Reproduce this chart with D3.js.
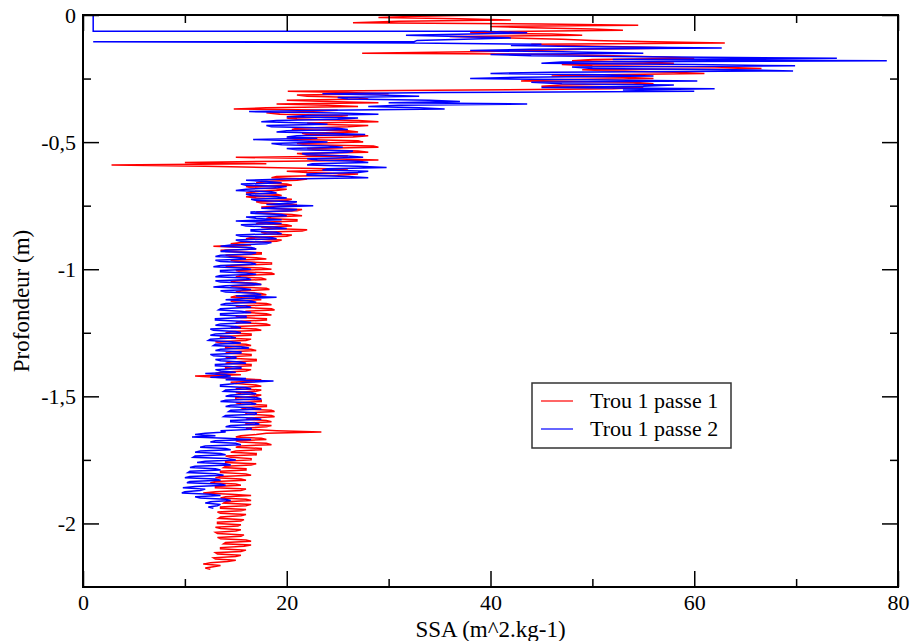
<!DOCTYPE html>
<html>
<head>
<meta charset="utf-8">
<script src="https://cdn.jsdelivr.net/npm/d3@7"></script>
<style>
body { margin: 0; background: #fff; }
svg { display: block; }
text { font-family: "Liberation Serif", "Times New Roman", serif; }
</style>
</head>
<body>
<svg id="figure" width="912" height="641"></svg>
<script>

// depth step between samples (m)
var step = 0.005;

// Trou 1 passe 1 : SSA from depth 0 downwards
var redTop = 0;
var redSSA = [
 40, 33, 29, 37, 42, 31, 26.5, 45, 54.5, 40, 44, 50, 53, 41, 38, 46, 49, 36, 42, 47, 50, 56, 63, 44, 47, 53, 58.6, 49, 44, 38,
 27.4, 46, 52, 57, 60, 50, 48, 55, 58, 47, 50, 62, 66.6, 49, 52, 58, 61, 51, 46, 53, 56, 45, 43, 54, 56, 47, 45, 55, 52, 38,
 20.1, 26, 30, 21, 22, 27, 28, 20, 24, 29, 19, 24, 27, 18, 14.8, 25, 22, 18, 19.3, 26, 25, 20, 21, 27, 29, 22, 23, 28, 26, 21,
 20.5, 26, 27, 21.5, 22, 28, 26.5, 20, 21, 27, 27.5, 21, 22, 28.5, 29, 22, 23, 27, 28, 21, 22, 26, 15, 24, 29, 20, 10, 18, 2.8, 12,
 18, 24, 26, 20, 22, 27, 25, 19, 18.5, 22, 21, 17.5, 17, 20, 20.5, 16, 16.5, 20, 19, 16.5, 16, 19, 19.5, 16, 17, 20.5, 20, 17, 17.5, 21,
 20.5, 17.5, 18, 21.5, 21, 17, 17.5, 20.5, 21.5, 18.5, 18, 21, 21, 17.5, 17, 20, 20.5, 17.5, 18.5, 22, 21.5, 17.5, 18, 20.5, 20, 16.5, 16, 19.5, 19, 15.5,
 14.5, 16.5, 12.8, 16, 17, 13.5, 14, 17.5, 17.5, 14, 14.5, 17, 18, 14.5, 15, 18.5, 18.5, 14.5, 14, 17.5, 18.5, 15, 15.5, 18.5, 18.8, 15.5, 15, 17.5, 18, 15,
 14.5, 17, 17.5, 14.5, 15, 18, 18.3, 15.5, 15, 17.5, 18, 15, 14.5, 17, 17.5, 14.5, 15, 18, 18.5, 15, 15.5, 18.5, 18.8, 16, 16, 18, 18.5, 15, 15.5, 18,
 18, 15.5, 15, 18, 18.4, 15, 14.5, 17, 17.5, 14.5, 14, 16.5, 16.5, 13.5, 13.5, 16.5, 16, 13, 13.5, 16, 16.5, 14, 14, 16.5, 17, 14.5, 14, 16.5, 16.5, 14,
 14.5, 17, 17, 14.5, 14, 16.5, 16.5, 14, 14, 16.5, 16, 13.5, 13, 15.5, 11, 13, 15, 17.5, 17, 14.5, 15, 17, 17.5, 15.5, 15, 17.5, 17, 15, 15.5, 17.5,
 17, 15, 15, 17.5, 17.5, 15, 15.5, 18, 18, 15.5, 16, 18.5, 18.8, 16, 16, 18.5, 18.8, 16.5, 16, 18, 18.5, 16, 16, 18.5, 18, 16, 16.5, 19, 23.4, 18,
 17, 15.5, 15, 17.5, 18, 15, 15.5, 18, 18.5, 15.5, 15, 17.5, 17.5, 15, 14.5, 17, 17, 14, 14.5, 16.5, 16.5, 14, 14, 17, 16.5, 14, 13.8, 16, 16, 13.5,
 13.5, 16, 16.5, 13.5, 13, 15.5, 16, 13, 12.5, 15, 15.5, 13, 13, 16, 15.5, 13, 11.8, 14.5, 16.5, 14, 13.5, 16, 16.5, 14, 13.8, 16.5, 16, 13.5, 13.5, 16,
 15.5, 13.2, 13.5, 16, 15.5, 13.5, 13.3, 15.8, 15.5, 13.2, 13.2, 15.5, 15.2, 13, 13.5, 15.5, 15, 13, 13.2, 15.8, 15.5, 13.2, 13.5, 16, 16.5, 14, 13.8, 16.5, 15.8, 13.5,
 13.5, 16, 15.5, 13, 13.2, 15.5, 15, 12.8, 13, 15, 14.2, 12.5, 11.8, 13.5, 12.8, 12, 12.5
];

// Trou 1 passe 2 : first points (not evenly spaced)
var blueHeadSSA   = [13.2, 1, 1, 39.4, 43.6, 31.7, 42, 32.8, 32.5, 1];
var blueHeadDepth = [0, 0, -0.064, -0.064, -0.07, -0.08, -0.09, -0.10, -0.105, -0.105];
// then evenly spaced from -0.11
var blueTop = -0.11;
var blueSSA = [
 32.5, 45, 42, 50, 62.7, 44, 38, 47, 55, 40, 44, 58, 74, 52, 78.9, 47, 45, 60, 69.9, 48, 50, 64, 69.7, 46, 40, 51, 56, 43, 38, 49,
 60.3, 44, 47, 58, 55, 45, 62, 53, 60, 35, 23.5, 29, 33, 25, 26, 34, 37, 30, 43.6, 31, 28, 33, 35.5, 24, 16.3, 25, 29, 22, 20, 27,
 25, 19, 17.5, 22, 24, 18, 18.5, 25, 26, 20, 19, 24, 27.7, 21, 20, 23, 16.7, 21, 24, 18.5, 19.5, 24, 25.5, 20, 21, 26.5, 26, 21.5, 22, 26,
 27.5, 22, 23, 27, 28, 22.5, 22, 27, 29.8, 24, 23.5, 28, 27, 22, 22, 26, 28, 20, 16, 18, 19.5, 15.5, 16, 20, 19, 16, 15, 18.5, 19, 16,
 16.5, 19, 20, 16.5, 17, 21, 20.5, 18, 22.6, 19, 17.5, 21, 20.5, 16.5, 16.5, 19.5, 20, 16, 17, 19.5, 15, 18, 19.5, 15.5, 16, 19, 20, 16.5, 16.5, 19,
 19.5, 15, 15.5, 18.5, 19, 15, 15.5, 18.5, 18, 14.5, 13.5, 16.5, 17, 14, 13.5, 17, 16.5, 13.5, 13, 15.5, 16, 13, 13.5, 16.5, 17, 13.5, 12.8, 15.5, 16.5, 13.5,
 13.5, 16, 17, 13.5, 13, 16, 16.5, 13, 13.5, 16.5, 17.5, 14, 12.8, 15.5, 16.5, 13.5, 14, 17, 17.5, 15, 19, 16, 14, 16.5, 17, 14, 13.5, 16, 16.5, 13.5,
 13.3, 15.5, 16.5, 13.5, 13.5, 16, 16, 13, 13, 15.5, 16.5, 13.5, 13, 15, 15.5, 12.5, 12.8, 15, 15.5, 13, 12.5, 14.5, 15, 12.5, 12.3, 14.5, 15.5, 13, 12.8, 15.5,
 16.3, 13.5, 13, 15.5, 15.5, 12.5, 12.8, 15, 15, 13, 13.5, 15.5, 16, 13, 13, 15.5, 15.5, 13, 13.5, 15, 12, 14, 14.5, 12.5, 16, 14, 18.7, 16, 15, 13.5,
 13.5, 16, 16.5, 14, 13.8, 16.5, 17, 14.5, 14, 17, 17.5, 14, 13.5, 16.5, 17, 14.5, 14, 16.5, 17.5, 14.5, 14.3, 17, 17, 14, 13.8, 16.5, 17.5, 14.5, 14.5, 17,
 17.3, 14.5, 14, 16.5, 16.5, 13.5, 14, 12, 11, 13, 10.7, 14, 16.5, 13, 12.5, 15, 15.5, 12, 11.5, 14, 14.5, 11.5, 11, 13.5, 14, 11, 10.8, 14, 15, 12,
 11.2, 14, 14.5, 11, 10.5, 13, 13.5, 10.5, 10.3, 13, 13.8, 10.5, 10, 13, 13.5, 10.5, 10.2, 13.5, 14, 11, 9.8, 12, 11.5, 10, 9.7, 12.5, 13.5, 11, 11.5, 14,
 14.5, 12.5, 12, 13.5, 13.2, 12.3, 12.8
];

var xMajor = [0, 20, 40, 60, 80];
var xMinor = [10, 30, 50, 70];
var yMajor = [0, -0.5, -1, -1.5, -2];
var yMinor = [-0.25, -0.75, -1.25, -1.75];

var seriesNames = ["Trou 1 passe 1", "Trou 1 passe 2"];
var seriesColors = ["#ff0000", "#0000ff"];

// ---------------------------------------------------------------

var pLeft = 83, pRight = 898, pTop = 15, pBottom = 587;

var svg = d3.select("#figure");

var x = d3.scaleLinear().domain([0, 80]).range([pLeft, pRight]);
var y = d3.scaleLinear().domain([-2.25, 0]).range([pBottom, pTop]);

var redPts = redSSA.map(function(v, i) { return [v, redTop - i * step]; });
var bluePts = blueHeadSSA.map(function(v, i) { return [v, blueHeadDepth[i]]; })
	.concat(blueSSA.map(function(v, i) { return [v, blueTop - i * step]; }));

var line = d3.line()
	.x(function(d) { return x(d[0]); })
	.y(function(d) { return y(d[1]); });

var plot = svg.append("g");

plot.selectAll("path.serie")
	.data([redPts, bluePts])
	.enter()
	.append("path")
	.attr("class", "serie")
	.attr("d", line)
	.attr("fill", "none")
	.attr("stroke", function(d, i) { return seriesColors[i]; })
	.attr("stroke-width", 1.5)
	.attr("stroke-linejoin", "miter");

// axes, ticks pointing inwards on the four sides
function yFmt(d) { return d === 0 ? "0" : String(d).replace(".", ","); }

function addAxis(axis, tx, ty, vals, size, fmt) {
	var g = svg.append("g")
		.attr("transform", "translate(" + tx + "," + ty + ")")
		.call(axis.tickValues(vals).tickSize(-size).tickPadding(7).tickFormat(fmt || ""));
	g.select(".domain").remove();
	g.selectAll(".tick line").attr("stroke", "#000").attr("stroke-width", 1.5);
	g.selectAll(".tick text")
		.attr("fill", "#000")
		.attr("font-size", "22px")
		.attr("font-family", "Liberation Serif, Times New Roman, serif");
	return g;
}

addAxis(d3.axisBottom(x), 0, pBottom, xMajor, 16, function(d) { return d; });
addAxis(d3.axisBottom(x), 0, pBottom, xMinor, 8);
addAxis(d3.axisTop(x), 0, pTop, xMajor, 16);
addAxis(d3.axisTop(x), 0, pTop, xMinor, 8);
addAxis(d3.axisLeft(y), pLeft, 0, yMajor, 16, yFmt);
addAxis(d3.axisLeft(y), pLeft, 0, yMinor, 8);
addAxis(d3.axisRight(y), pRight, 0, yMajor, 16);
addAxis(d3.axisRight(y), pRight, 0, yMinor, 8);

svg.append("rect")
	.attr("x", pLeft)
	.attr("y", pTop)
	.attr("width", pRight - pLeft)
	.attr("height", pBottom - pTop)
	.attr("fill", "none")
	.attr("stroke", "#000")
	.attr("stroke-width", 2);

// axis titles
svg.append("text")
	.attr("x", (pLeft + pRight) / 2)
	.attr("y", 637)
	.attr("text-anchor", "middle")
	.attr("font-size", "23px")
	.text("SSA (m^2.kg-1)");

svg.append("text")
	.attr("transform", "translate(29," + ((pTop + pBottom) / 2) + ")rotate(-90)")
	.attr("text-anchor", "middle")
	.attr("font-size", "23px")
	.text("Profondeur (m)");

// legend
var leg = svg.append("g").attr("transform", "translate(532,383)");

leg.append("rect")
	.attr("width", 199)
	.attr("height", 65)
	.attr("fill", "#fff")
	.attr("stroke", "#333")
	.attr("stroke-width", 1.5);

var items = leg.selectAll("g.legitem")
	.data(seriesNames)
	.enter()
	.append("g")
	.attr("class", "legitem")
	.attr("transform", function(d, i) { return "translate(0," + (18 + i * 28) + ")"; });

items.append("line")
	.attr("x1", 9)
	.attr("x2", 41)
	.attr("stroke", function(d, i) { return seriesColors[i]; })
	.attr("stroke-width", 1.2);

items.append("text")
	.attr("x", 58)
	.attr("dy", "0.33em")
	.attr("font-size", "22px")
	.text(function(d) { return d; });

</script>
</body>
</html>
